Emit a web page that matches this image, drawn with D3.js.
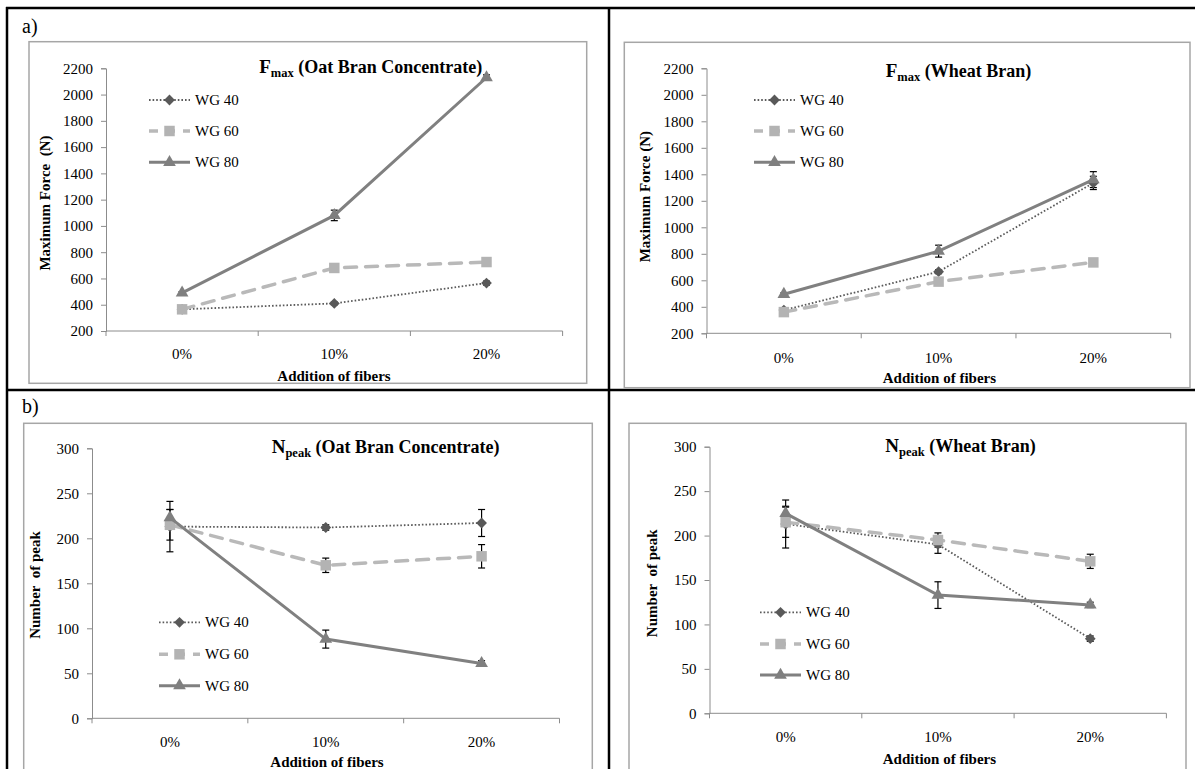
<!DOCTYPE html>
<html>
<head>
<meta charset="utf-8">
<script src="https://cdn.jsdelivr.net/npm/d3@7"></script>
<style>
  html,body{margin:0;padding:0;background:#fff;}
  svg{display:block;}
  svg text{font-family:"Liberation Serif","Times New Roman",serif !important;fill:#000;}
</style>
</head>
<body>
<svg id="chart" width="1195" height="769" font-family="Liberation Serif"></svg>
<script>
// ---------------- DATA ----------------
const categories = ["0%", "10%", "20%"];
const seriesNames = ["WG 40", "WG 60", "WG 80"];

const fmaxTicks = [200, 400, 600, 800, 1000, 1200, 1400, 1600, 1800, 2000, 2200];
const npeakTicks = [0, 50, 100, 150, 200, 250, 300];

// Fmax (Oat Bran Concentrate)
const fmaxOatWG40 = [365, 410, 565];
const fmaxOatWG60 = [365, 680, 725];
const fmaxOatWG80 = [490, 1080, 2130];
const fmaxOatErrWG40 = [10, 10, 15];
const fmaxOatErrWG60 = [10, 20, 15];
const fmaxOatErrWG80 = [10, 40, 20];

// Fmax (Wheat Bran)
const fmaxWheatWG40 = [375, 665, 1335];
const fmaxWheatWG60 = [360, 590, 735];
const fmaxWheatWG80 = [495, 820, 1360];
const fmaxWheatErrWG40 = [10, 15, 50];
const fmaxWheatErrWG60 = [10, 15, 15];
const fmaxWheatErrWG80 = [10, 45, 60];

// Npeak (Oat Bran Concentrate)
const npeakOatWG40 = [213, 212, 217];
const npeakOatWG60 = [215, 170, 180];
const npeakOatWG80 = [223, 88, 61];
const npeakOatErrWG40 = [28, 3, 15];
const npeakOatErrWG60 = [17, 8, 13];
const npeakOatErrWG80 = [9, 10, 3];

// Npeak (Wheat Bran)
const npeakWheatWG40 = [213, 190, 84];
const npeakWheatWG60 = [215, 195, 171];
const npeakWheatWG80 = [225, 133, 122];
const npeakWheatErrWG40 = [27, 10, 3];
const npeakWheatErrWG60 = [17, 8, 8];
const npeakWheatErrWG80 = [8, 15, 3];

// ---------------- LAYOUT ----------------
const svg = d3.select("#chart");
const FONT = 15;
const SERIF = "Liberation Serif";

const seriesStyle = [
  {color:"#5a5a5a", marker:"#595959", dash:"1.6,2", width:1.8, shape:"diamond"},
  {color:"#b9b9b9", marker:"#b3b3b3", dash:"12,9", width:3.5, shape:"square"},
  {color:"#808080", marker:"#7f7f7f", dash:null, width:3, shape:"triangle"}
];

const panels = [
  {box:[29,41.7,586.7,383.3], x0:106, x1:562.6, yDom:[200,2200], yRng:[331,68.3], ticks:fmaxTicks,
   main:"F", sub:"max", rest:" (Oat Bran Concentrate)", titleX:370.7, titleY:73,
   ylabel:"Maximum Force  (N)", ylabX:45, ylabY:203, xlabX:334, xlabY:381, tickY:359,
   legX:149, legY:[100,131,162.3],
   vals:[fmaxOatWG40,fmaxOatWG60,fmaxOatWG80], errs:[fmaxOatErrWG40,fmaxOatErrWG60,fmaxOatErrWG80]},
  {box:[624.3,42.3,1190,387.7], x0:706.5, x1:1170.7, yDom:[200,2200], yRng:[333.3,68.3], ticks:fmaxTicks,
   main:"F", sub:"max", rest:" (Wheat Bran)", titleX:958.5, titleY:77,
   ylabel:"Maximum Force (N)", ylabX:644.7, ylabY:196.7, xlabX:939.4, xlabY:383, tickY:363,
   legX:754, legY:[100,131,162.3],
   vals:[fmaxWheatWG40,fmaxWheatWG60,fmaxWheatWG80], errs:[fmaxWheatErrWG40,fmaxWheatErrWG60,fmaxWheatErrWG80]},
  {box:[23.7,423.3,592.3,800], x0:92, x1:559.5, yDom:[0,300], yRng:[718.3,448.3], ticks:npeakTicks,
   main:"N", sub:"peak", rest:" (Oat Bran Concentrate)", titleX:385.6, titleY:453,
   ylabel:"Number  of peak", ylabX:35, ylabY:585, xlabX:327, xlabY:767, tickY:747,
   legX:159, legY:[622.3,654.3,685.7],
   vals:[npeakOatWG40,npeakOatWG60,npeakOatWG80], errs:[npeakOatErrWG40,npeakOatErrWG60,npeakOatErrWG80]},
  {box:[629,423.3,1186,800], x0:709.5, x1:1166.4, yDom:[0,300], yRng:[713.3,446.7], ticks:npeakTicks,
   main:"N", sub:"peak", rest:" (Wheat Bran)", titleX:960.5, titleY:452,
   ylabel:"Number  of peak", ylabX:651.6, ylabY:583.3, xlabX:939.4, xlabY:764, tickY:742,
   legX:760, legY:[612.3,644,675],
   vals:[npeakWheatWG40,npeakWheatWG60,npeakWheatWG80], errs:[npeakWheatErrWG40,npeakWheatErrWG60,npeakWheatErrWG80]}
];

function markerPath(shape){
  if(shape==="diamond") return d3.symbol(d3.symbolSquare, 58)();
  if(shape==="square") return d3.symbol(d3.symbolSquare, 110)();
  return d3.symbol(d3.symbolTriangle, 70)();
}
function drawMarker(g, shape, x, y, fill){
  g.append("path")
    .attr("d", markerPath(shape))
    .attr("transform", `translate(${x},${y})` + (shape==="diamond" ? " rotate(45)" : ""))
    .attr("fill", fill);
}
function txt(sel){ return sel.attr("font-family", SERIF).attr("fill","#000"); }

// ---------------- OUTER FRAME ----------------
const frame = svg.append("g").attr("stroke","#000").attr("stroke-width",2.5);
frame.append("line").attr("x1",6).attr("y1",8).attr("x2",1195).attr("y2",8);
frame.append("line").attr("x1",7).attr("y1",7).attr("x2",7).attr("y2",769);
frame.append("line").attr("x1",609).attr("y1",7).attr("x2",609).attr("y2",769);
frame.append("line").attr("x1",6).attr("y1",390).attr("x2",1195).attr("y2",390);

txt(svg.append("text")).attr("x",22).attr("y",33).attr("font-size",20).text("a)");
txt(svg.append("text")).attr("x",22).attr("y",413).attr("font-size",20).text("b)");

// ---------------- PANELS ----------------
panels.forEach(p => {
  const g = svg.append("g");
  const [bx0,by0,bx1,by1] = p.box;
  g.append("rect").attr("x",bx0).attr("y",by0).attr("width",bx1-bx0).attr("height",by1-by0)
    .attr("fill","#fff").attr("stroke","#a6a6a6").attr("stroke-width",1.5);

  const x = d3.scaleBand().domain(categories).range([p.x0, p.x1]).padding(0);
  const y = d3.scaleLinear().domain(p.yDom).range(p.yRng);
  const cx = c => x(c) + x.bandwidth()/2;

  // Y axis
  const yAxis = d3.axisLeft(y).tickValues(p.ticks).tickSize(5).tickPadding(8).tickFormat(d3.format("d"));
  const ya = g.append("g").attr("transform",`translate(${p.x0},0)`).call(yAxis)
    .attr("font-family", SERIF).attr("font-size", FONT);
  ya.select(".domain").attr("stroke","#8c8c8c");
  ya.selectAll(".tick line").attr("stroke","#8c8c8c");
  txt(ya.selectAll(".tick text")).attr("font-size",FONT);

  // X axis
  const xAxis = d3.axisBottom(x).tickSize(0).tickPadding(18);
  const xa = g.append("g").attr("transform",`translate(0,${y(p.yDom[0])})`).call(xAxis)
    .attr("font-family", SERIF);
  xa.select(".domain").attr("stroke","#8c8c8c").attr("d", `M${p.x0},0H${p.x1}`);
  xa.selectAll(".tick text").remove();
  const bounds = categories.map(c => x(c)).concat([p.x1]);
  xa.selectAll("line.bt").data(bounds).enter().append("line").attr("class","bt")
    .attr("x1",d=>d).attr("x2",d=>d).attr("y1",0).attr("y2",5).attr("stroke","#8c8c8c");
  txt(g.selectAll("text.cat").data(categories).enter().append("text").attr("class","cat"))
    .attr("x",d=>cx(d)).attr("y",p.tickY).attr("text-anchor","middle").attr("font-size",FONT).text(d=>d);

  // Axis titles
  txt(g.append("text")).attr("x",p.xlabX).attr("y",p.xlabY).attr("text-anchor","middle")
    .attr("font-size",FONT).attr("font-weight","bold").text("Addition of fibers");
  txt(g.append("text")).attr("transform",`translate(${p.ylabX + 5},${p.ylabY}) rotate(-90)`)
    .attr("text-anchor","middle").attr("font-size",FONT).attr("font-weight","bold")
    .style("white-space","pre").text(p.ylabel);

  // Chart title
  const t = txt(g.append("text")).attr("x",p.titleX).attr("y",p.titleY).attr("text-anchor","middle")
    .attr("font-weight","bold").style("white-space","pre");
  t.append("tspan").attr("font-size",19).text(p.main);
  t.append("tspan").attr("font-size",12.5).attr("dy",4).text(p.sub);
  t.append("tspan").attr("font-size",18).attr("dy",-4).text(p.rest);

  // Error bars
  p.vals.forEach((vals, si) => {
    const errs = p.errs[si];
    vals.forEach((v, i) => {
      const xx = cx(categories[i]);
      const e = errs[i];
      g.append("line").attr("x1",xx).attr("x2",xx).attr("y1",y(v-e)).attr("y2",y(v+e))
        .attr("stroke","#000").attr("stroke-width",1.2);
      [v-e, v+e].forEach(ev => {
        g.append("line").attr("x1",xx-3.5).attr("x2",xx+3.5).attr("y1",y(ev)).attr("y2",y(ev))
          .attr("stroke","#000").attr("stroke-width",1.2);
      });
    });
  });

  // Lines + markers
  p.vals.forEach((vals, si) => {
    const st = seriesStyle[si];
    const line = d3.line().x((d,i)=>cx(categories[i])).y(d=>y(d));
    const path = g.append("path").datum(vals).attr("d", line).attr("fill","none")
      .attr("stroke", st.color).attr("stroke-width", st.width);
    if (st.dash) path.attr("stroke-dasharray", st.dash);
    if (si===1) path.attr("stroke-linecap","round");
    vals.forEach((v,i) => drawMarker(g, st.shape, cx(categories[i]), y(v), st.marker));
  });

  // Legend
  seriesNames.forEach((name, si) => {
    const st = seriesStyle[si];
    const ly = p.legY[si];
    const l = g.append("line").attr("x1",p.legX).attr("x2",p.legX+41).attr("y1",ly).attr("y2",ly)
      .attr("stroke",st.color).attr("stroke-width",st.width);
    if (st.dash) l.attr("stroke-dasharray", si===1 ? "9,8" : st.dash);
    drawMarker(g, st.shape, p.legX+20.5, ly, st.marker);
    txt(g.append("text")).attr("x",p.legX+46).attr("y",ly+5).attr("font-size",FONT).text(name);
  });
});
</script>
</body>
</html>
